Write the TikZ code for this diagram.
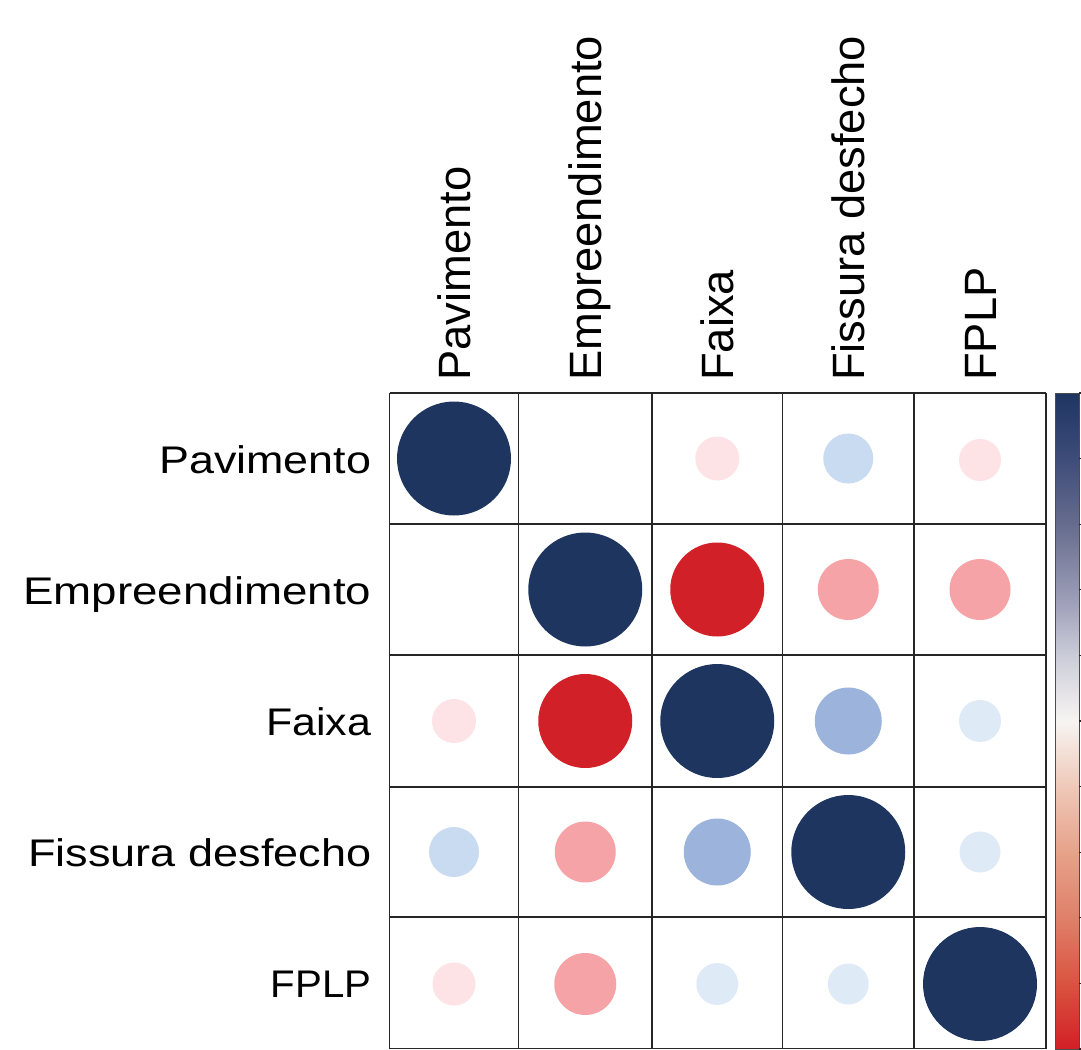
\documentclass[tikz,border=0pt]{standalone}
\usepackage{fontspec}
\setmainfont{Liberation Sans}
\usepackage{graphicx}
\definecolor{cNavy}{HTML}{1E3560}
\definecolor{cRed}{HTML}{D12027}
\definecolor{cPink}{HTML}{F6A3A7}
\definecolor{cLPink}{HTML}{FDE2E6}
\definecolor{cLBlue}{HTML}{C9DBF0}
\definecolor{cMBlue}{HTML}{9CB3DC}
\definecolor{cVLBlue}{HTML}{DEEBF7}
\definecolor{sR0}{HTML}{D21F26}
\definecolor{sR1}{HTML}{D9533F}
\definecolor{sR2}{HTML}{E0806A}
\definecolor{sR3}{HTML}{E7A28A}
\definecolor{sR4}{HTML}{EEC7B6}
\definecolor{sW}{HTML}{F7F4F2}
\definecolor{sB1}{HTML}{CBCCD8}
\definecolor{sB2}{HTML}{9C9DB7}
\definecolor{sB3}{HTML}{666C8E}
\definecolor{sB4}{HTML}{3C4B78}
\definecolor{sB5}{HTML}{1F3562}
\pgfdeclareverticalshading{cbarshade}{100bp}{color(0bp)=(sR0); color(25bp)=(sR0); color(29.9bp)=(sR1); color(35bp)=(sR2); color(40bp)=(sR3); color(44.8bp)=(sR4); color(50bp)=(sW); color(55bp)=(sB1); color(59.3bp)=(sB2); color(65bp)=(sB3); color(70.2bp)=(sB4); color(75bp)=(sB5); color(100bp)=(sB5)}
\begin{document}
\begin{tikzpicture}[x=1pt,y=-1pt,
  dot/.style={circle,inner sep=0pt,minimum size=#1,draw=none},
  gridline/.style={line width=1.2pt,draw=black!85},
  toplab/.style={rotate=90,anchor=base west,inner sep=0pt,font=\fontsize{45.3}{50}\selectfont},
  leftlab/.style={anchor=base east,inner sep=0pt},
  tick/.style={line width=1.2pt,draw=black!85}]
\useasboundingbox (0,0) rectangle (1081,1049);
% top labels
\node[toplab] (t1) at (470.2,381) {Pavimento};
\node[toplab] (t2) at (601.4,381) {Empreendimento};
\node[toplab] (t3) at (733.4,381) {Faixa};
\node[toplab] (t4) at (864.4,381) {Fissura desfecho};
\node[toplab] (t5) at (996.2,381) {FPLP};
% left labels
\newcommand{\lablx}[2][1.18]{\scalebox{#1}[1]{\fontsize{38.5}{44}\selectfont #2}}
\node[leftlab] (l1) at (371.5,473) {\lablx[1.165]{Pavimento}};
\node[leftlab] (l2) at (371.5,604) {\lablx[1.187]{Empreendimento}};
\node[leftlab] (l3) at (371.5,735.5) {\lablx[1.115]{Faixa}};
\node[leftlab] (l4) at (371.5,866.5) {\lablx[1.17]{Fissura desfecho}};
\node[leftlab] (l5) at (371.5,997) {\lablx[1.045]{FPLP}};
% circles
\node[dot=114,fill=cNavy] (c11) at (454,458.5) {};
\node[dot=44,fill=cLPink] (c13) at (717.25,458.5) {};
\node[dot=50,fill=cLBlue] (c14) at (848.25,458.5) {};
\node[dot=42,fill=cLPink] (c15) at (980,460) {};
\node[dot=114,fill=cNavy] (c22) at (585.25,589.5) {};
\node[dot=94,fill=cRed] (c23) at (717.25,589.5) {};
\node[dot=61,fill=cPink] (c24) at (848.25,589.5) {};
\node[dot=61,fill=cPink] (c25) at (980,589.5) {};
\node[dot=44,fill=cLPink] (c31) at (454,721) {};
\node[dot=94,fill=cRed] (c32) at (585.25,721) {};
\node[dot=114,fill=cNavy] (c33) at (717.25,721) {};
\node[dot=67,fill=cMBlue] (c34) at (848.25,721) {};
\node[dot=42,fill=cVLBlue] (c35) at (980,721) {};
\node[dot=50,fill=cLBlue] (c41) at (454,852) {};
\node[dot=61,fill=cPink] (c42) at (585.25,852) {};
\node[dot=67,fill=cMBlue] (c43) at (717.25,852) {};
\node[dot=114,fill=cNavy] (c44) at (848.25,852) {};
\node[dot=41,fill=cVLBlue] (c45) at (980,852) {};
\node[dot=43,fill=cLPink] (c51) at (454,984) {};
\node[dot=62,fill=cPink] (c52) at (585.25,984) {};
\node[dot=42,fill=cVLBlue] (c53) at (717.25,984) {};
\node[dot=41,fill=cVLBlue] (c54) at (848.25,984) {};
\node[dot=114,fill=cNavy] (c55) at (980,984) {};
% grid
\foreach \xx in {389.5,518.5,652,782.5,914,1046}
  \draw[gridline] (\xx,393) -- (\xx,1048.5);
\foreach \yy in {393,524,655,787,917,1048.5}
  \draw[gridline] (389.5,\yy) -- (1046,\yy);
% colour bar
\shade[shading=cbarshade] (1055,393) rectangle (1079,1049);
\draw[line width=1pt,draw=black!70] (1055,393) rectangle (1079,1049);
\foreach \i in {0,...,10}
  \draw[tick] (1079,393+\i*65.6) -- ++(6,0);
\end{tikzpicture}
\end{document}
